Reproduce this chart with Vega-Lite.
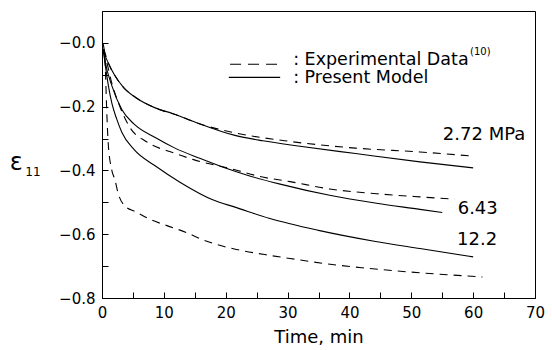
{
  "$schema": "https://vega.github.io/schema/vega-lite/v6.json",
  "width": 433,
  "height": 287,
  "autosize": {"type": "none"},
  "padding": {"left": 102, "top": 11, "right": 17, "bottom": 52},
  "background": "white",
  "config": {
    "view": {"stroke": "black", "strokeWidth": 1},
    "axis": {
      "grid": false,
      "domainColor": "black",
      "tickColor": "black",
      "labelColor": "black",
      "titleColor": "black",
      "labelFont": "DejaVu Sans",
      "titleFont": "DejaVu Sans",
      "labelFontSize": 15,
      "titleFontSize": 18,
      "titleFontWeight": "normal"
    },
    "text": {"font": "DejaVu Sans", "color": "black"}
  },
  "datasets": {
    "curves": [
      {"stress": "2.72", "kind": "model", "t": 0.2, "e": -0.02},
      {"stress": "2.72", "kind": "model", "t": 0.5, "e": -0.04},
      {"stress": "2.72", "kind": "model", "t": 1, "e": -0.062},
      {"stress": "2.72", "kind": "model", "t": 2, "e": -0.1},
      {"stress": "2.72", "kind": "model", "t": 3.5, "e": -0.14},
      {"stress": "2.72", "kind": "model", "t": 5.5, "e": -0.172},
      {"stress": "2.72", "kind": "model", "t": 8.5, "e": -0.203},
      {"stress": "2.72", "kind": "model", "t": 11.5, "e": -0.222},
      {"stress": "2.72", "kind": "model", "t": 15, "e": -0.248},
      {"stress": "2.72", "kind": "model", "t": 21.5, "e": -0.29},
      {"stress": "2.72", "kind": "model", "t": 26, "e": -0.307},
      {"stress": "2.72", "kind": "model", "t": 32, "e": -0.324},
      {"stress": "2.72", "kind": "model", "t": 41, "e": -0.347},
      {"stress": "2.72", "kind": "model", "t": 51.4, "e": -0.373},
      {"stress": "2.72", "kind": "model", "t": 60, "e": -0.392},

      {"stress": "2.72", "kind": "exp", "t": 0.3, "e": -0.02},
      {"stress": "2.72", "kind": "exp", "t": 1, "e": -0.062},
      {"stress": "2.72", "kind": "exp", "t": 2, "e": -0.1},
      {"stress": "2.72", "kind": "exp", "t": 3.5, "e": -0.14},
      {"stress": "2.72", "kind": "exp", "t": 5.5, "e": -0.172},
      {"stress": "2.72", "kind": "exp", "t": 8.5, "e": -0.203},
      {"stress": "2.72", "kind": "exp", "t": 12.6, "e": -0.23},
      {"stress": "2.72", "kind": "exp", "t": 16, "e": -0.255},
      {"stress": "2.72", "kind": "exp", "t": 21.5, "e": -0.282},
      {"stress": "2.72", "kind": "exp", "t": 30.4, "e": -0.309},
      {"stress": "2.72", "kind": "exp", "t": 41, "e": -0.33},
      {"stress": "2.72", "kind": "exp", "t": 51.4, "e": -0.342},
      {"stress": "2.72", "kind": "exp", "t": 60, "e": -0.355},

      {"stress": "6.43", "kind": "model", "t": 0.2, "e": -0.02},
      {"stress": "6.43", "kind": "model", "t": 0.5, "e": -0.057},
      {"stress": "6.43", "kind": "model", "t": 1.6, "e": -0.135},
      {"stress": "6.43", "kind": "model", "t": 3.2, "e": -0.209},
      {"stress": "6.43", "kind": "model", "t": 5.2, "e": -0.255},
      {"stress": "6.43", "kind": "model", "t": 8.6, "e": -0.297},
      {"stress": "6.43", "kind": "model", "t": 11.8, "e": -0.33},
      {"stress": "6.43", "kind": "model", "t": 15.8, "e": -0.362},
      {"stress": "6.43", "kind": "model", "t": 19.6, "e": -0.39},
      {"stress": "6.43", "kind": "model", "t": 24, "e": -0.418},
      {"stress": "6.43", "kind": "model", "t": 28.8, "e": -0.443},
      {"stress": "6.43", "kind": "model", "t": 36.8, "e": -0.478},
      {"stress": "6.43", "kind": "model", "t": 44.4, "e": -0.503},
      {"stress": "6.43", "kind": "model", "t": 51.4, "e": -0.522},
      {"stress": "6.43", "kind": "model", "t": 55, "e": -0.532},

      {"stress": "6.43", "kind": "exp", "t": 0.3, "e": -0.02},
      {"stress": "6.43", "kind": "exp", "t": 0.8, "e": -0.062},
      {"stress": "6.43", "kind": "exp", "t": 1.5, "e": -0.12},
      {"stress": "6.43", "kind": "exp", "t": 2.7, "e": -0.19},
      {"stress": "6.43", "kind": "exp", "t": 4.5, "e": -0.265},
      {"stress": "6.43", "kind": "exp", "t": 7.2, "e": -0.31},
      {"stress": "6.43", "kind": "exp", "t": 11.6, "e": -0.345},
      {"stress": "6.43", "kind": "exp", "t": 14.8, "e": -0.366},
      {"stress": "6.43", "kind": "exp", "t": 21.5, "e": -0.398},
      {"stress": "6.43", "kind": "exp", "t": 25.5, "e": -0.419},
      {"stress": "6.43", "kind": "exp", "t": 30.4, "e": -0.435},
      {"stress": "6.43", "kind": "exp", "t": 36.8, "e": -0.458},
      {"stress": "6.43", "kind": "exp", "t": 44.4, "e": -0.473},
      {"stress": "6.43", "kind": "exp", "t": 51.4, "e": -0.483},
      {"stress": "6.43", "kind": "exp", "t": 57, "e": -0.49},

      {"stress": "12.2", "kind": "model", "t": 0.2, "e": -0.02},
      {"stress": "12.2", "kind": "model", "t": 0.5, "e": -0.066},
      {"stress": "12.2", "kind": "model", "t": 1.6, "e": -0.19},
      {"stress": "12.2", "kind": "model", "t": 2.4, "e": -0.24},
      {"stress": "12.2", "kind": "model", "t": 3.2, "e": -0.28},
      {"stress": "12.2", "kind": "model", "t": 5.2, "e": -0.335},
      {"stress": "12.2", "kind": "model", "t": 8.7, "e": -0.387},
      {"stress": "12.2", "kind": "model", "t": 12.6, "e": -0.437},
      {"stress": "12.2", "kind": "model", "t": 18, "e": -0.493},
      {"stress": "12.2", "kind": "model", "t": 21.5, "e": -0.515},
      {"stress": "12.2", "kind": "model", "t": 27, "e": -0.55},
      {"stress": "12.2", "kind": "model", "t": 35, "e": -0.588},
      {"stress": "12.2", "kind": "model", "t": 44, "e": -0.622},
      {"stress": "12.2", "kind": "model", "t": 51.4, "e": -0.645},
      {"stress": "12.2", "kind": "model", "t": 60, "e": -0.671},

      {"stress": "12.2", "kind": "exp", "t": 0.2, "e": -0.004},
      {"stress": "12.2", "kind": "exp", "t": 0.5, "e": -0.06},
      {"stress": "12.2", "kind": "exp", "t": 0.76, "e": -0.21},
      {"stress": "12.2", "kind": "exp", "t": 1.0, "e": -0.314},
      {"stress": "12.2", "kind": "exp", "t": 1.57, "e": -0.398},
      {"stress": "12.2", "kind": "exp", "t": 2.1, "e": -0.43},
      {"stress": "12.2", "kind": "exp", "t": 2.6, "e": -0.471},
      {"stress": "12.2", "kind": "exp", "t": 3.8, "e": -0.513},
      {"stress": "12.2", "kind": "exp", "t": 5.4, "e": -0.529},
      {"stress": "12.2", "kind": "exp", "t": 7.6, "e": -0.552},
      {"stress": "12.2", "kind": "exp", "t": 10.5, "e": -0.573},
      {"stress": "12.2", "kind": "exp", "t": 13.7, "e": -0.595},
      {"stress": "12.2", "kind": "exp", "t": 16, "e": -0.615},
      {"stress": "12.2", "kind": "exp", "t": 18.5, "e": -0.632},
      {"stress": "12.2", "kind": "exp", "t": 21.8, "e": -0.648},
      {"stress": "12.2", "kind": "exp", "t": 27, "e": -0.666},
      {"stress": "12.2", "kind": "exp", "t": 30.4, "e": -0.676},
      {"stress": "12.2", "kind": "exp", "t": 36, "e": -0.692},
      {"stress": "12.2", "kind": "exp", "t": 42, "e": -0.705},
      {"stress": "12.2", "kind": "exp", "t": 51.4, "e": -0.721},
      {"stress": "12.2", "kind": "exp", "t": 61.5, "e": -0.734}
    ],
    "legendLines": [
      {"kind": "exp", "t": 20.7, "t2": 28.8, "e": -0.067},
      {"kind": "model", "t": 20.5, "t2": 28.8, "e": -0.108}
    ],
    "texts": [
      {"label": ": Experimental Data", "t": 30.9, "e": -0.054, "size": 17.5},
      {"label": ": Present Model", "t": 30.9, "e": -0.111, "size": 17.5},
      {"label": "(10)", "t": 59.5, "e": -0.028, "size": 10},
      {"label": "2.72 MPa", "t": 55.1, "e": -0.288, "size": 18},
      {"label": "6.43", "t": 57.5, "e": -0.521, "size": 18},
      {"label": "12.2", "t": 57.4, "e": -0.617, "size": 18},
      {"label": "ε", "t": -14.9, "e": -0.377, "size": 24},
      {"label": "11", "t": -12.4, "e": -0.404, "size": 12}
    ]
  },
  "encoding": {
    "x": {
      "field": "t",
      "type": "quantitative",
      "scale": {"domain": [0, 70], "nice": false, "zero": false},
      "axis": {
        "title": "Time, min",
        "values": [0, 5, 10, 15, 20, 25, 30, 35, 40, 45, 50, 55, 60, 65, 70],
        "labelExpr": "datum.value % 10 === 0 ? datum.label : ''",
        "tickSize": -6,
        "labelPadding": 13,
        "titlePadding": 8,
        "labelFlush": false,
        "labelOverlap": false
      }
    },
    "y": {
      "field": "e",
      "type": "quantitative",
      "scale": {"domain": [-0.8, 0.1], "nice": false, "zero": false},
      "axis": {
        "title": null,
        "values": [-0.8, -0.7, -0.6, -0.5, -0.4, -0.3, -0.2, -0.1, 0],
        "labelExpr": "abs(round(datum.value * 10)) % 2 === 0 ? '\u2212' + format(abs(datum.value), '.1f') : ''",
        "tickSize": -6,
        "labelPadding": 13,
        "labelFlush": false,
        "labelOverlap": false
      }
    }
  },
  "layer": [
    {
      "data": {"name": "curves"},
      "transform": [{"filter": "datum.kind === 'model'"}],
      "mark": {"type": "line", "color": "black", "strokeWidth": 1.1, "interpolate": "monotone", "clip": true},
      "encoding": {"detail": {"field": "stress"}}
    },
    {
      "data": {"name": "curves"},
      "transform": [{"filter": "datum.kind === 'exp'"}],
      "mark": {"type": "line", "color": "black", "strokeWidth": 1.1, "strokeDash": [8, 6], "interpolate": "monotone", "clip": true},
      "encoding": {"detail": {"field": "stress"}}
    },
    {
      "data": {"name": "legendLines"},
      "transform": [{"filter": "datum.kind === 'exp'"}],
      "mark": {"type": "rule", "color": "black", "strokeWidth": 1.1, "strokeDash": [11, 7]},
      "encoding": {"x2": {"field": "t2"}}
    },
    {
      "data": {"name": "legendLines"},
      "transform": [{"filter": "datum.kind === 'model'"}],
      "mark": {"type": "rule", "color": "black", "strokeWidth": 1.1},
      "encoding": {"x2": {"field": "t2"}}
    },
    {
      "data": {"name": "texts"},
      "mark": {"type": "text", "align": "left", "baseline": "middle", "font": "DejaVu Sans", "color": "black"},
      "encoding": {
        "text": {"field": "label"},
        "size": {"field": "size", "type": "quantitative", "scale": null}
      }
    }
  ]
}
